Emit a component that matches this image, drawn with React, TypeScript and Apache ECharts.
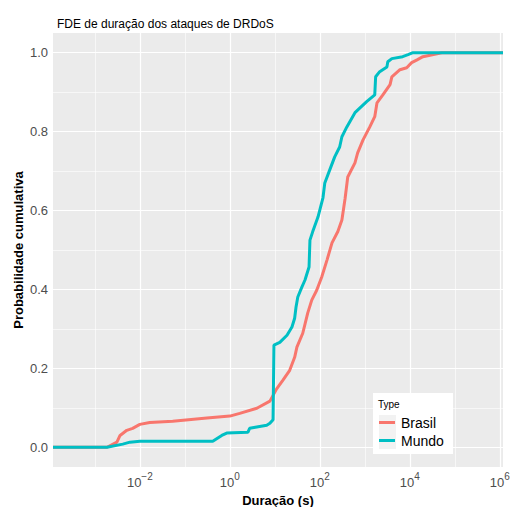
import React, { useEffect, useRef } from "react";
import * as echarts from "echarts";

// x values are log10(duration in seconds); y values are cumulative probability
const brasilLog10 = [-3.93, -2.73, -2.51, -2.44, -2.29, -2.16, -2.0, -1.78, -1.27, -0.51, 0.0, 0.22, 0.6, 0.89, 1.04, 1.18, 1.33, 1.44, 1.49, 1.62, 1.73, 1.82, 1.93, 2.04, 2.16, 2.27, 2.4, 2.49, 2.56, 2.62, 2.78, 2.84, 2.96, 3.11, 3.22, 3.27, 3.4, 3.56, 3.6, 3.78, 3.93, 4.04, 4.16, 4.29, 4.71, 6.07];
const brasilCdf = [0, 0, 0.013, 0.03, 0.043, 0.048, 0.058, 0.063, 0.066, 0.074, 0.079, 0.086, 0.099, 0.117, 0.148, 0.17, 0.195, 0.228, 0.254, 0.289, 0.34, 0.373, 0.398, 0.431, 0.475, 0.518, 0.547, 0.576, 0.63, 0.685, 0.721, 0.746, 0.779, 0.812, 0.838, 0.873, 0.893, 0.919, 0.939, 0.957, 0.962, 0.975, 0.982, 0.99, 1.0, 1.0];

const mundoLog10 = [-3.93, -2.73, -2.38, -2.22, -2.0, -0.38, -0.18, -0.07, 0.4, 0.44, 0.82, 0.89, 0.96, 0.98, 1.11, 1.27, 1.38, 1.44, 1.47, 1.51, 1.6, 1.67, 1.76, 1.78, 1.84, 1.96, 2.07, 2.11, 2.22, 2.33, 2.44, 2.49, 2.6, 2.78, 3.04, 3.22, 3.24, 3.33, 3.49, 3.51, 3.6, 3.84, 3.96, 4.07, 6.07];
const mundoCdf = [0, 0, 0.008, 0.013, 0.015, 0.015, 0.03, 0.036, 0.038, 0.048, 0.056, 0.061, 0.07, 0.259, 0.266, 0.284, 0.305, 0.327, 0.355, 0.381, 0.406, 0.424, 0.457, 0.525, 0.546, 0.584, 0.633, 0.67, 0.703, 0.736, 0.761, 0.787, 0.812, 0.848, 0.876, 0.893, 0.939, 0.952, 0.964, 0.977, 0.985, 0.99, 0.995, 1.0, 1.0];

const seriesNames = ["Brasil", "Mundo"];
const seriesColors = ["#F8766D", "#00BFC4"];

const xMajorExps = [-2, 0, 2, 4, 6];
const xMinorExps = [-3, -1, 1, 3, 5];
const yMajorTicks = [0, 0.2, 0.4, 0.6, 0.8, 1.0];
const yMinorTicks = [0.1, 0.3, 0.5, 0.7, 0.9];

const titleText = "FDE de duração dos ataques de DRDoS";
const xTitle = "Duração (s)";
const yTitle = "Probabilidade cumulativa";
const legendTitle = "Type";

const FONT = "'Liberation Sans', Arial, Helvetica, sans-serif";

export default function App() {
  const ref = useRef<HTMLDivElement>(null);
  useEffect(() => {
    if (!ref.current) return;
    const chart = echarts.init(ref.current, null, { renderer: "svg" });
    const pairs = (xs: number[], ys: number[]) => xs.map((x, i) => [x, ys[i]]);
    const major = { color: "#FFFFFF", width: 1.2, type: "solid" as const };
    const minor = { color: "#FFFFFF", width: 0.6, type: "solid" as const };
    const gridLines = [
      ...xMinorExps.map((v) => ({ xAxis: v, lineStyle: minor })),
      ...yMinorTicks.map((v) => ({ yAxis: v, lineStyle: minor })),
      ...xMajorExps.map((v) => ({ xAxis: v, lineStyle: major })),
      ...yMajorTicks.map((v) => ({ yAxis: v, lineStyle: major })),
    ];
    chart.setOption({
      animation: false,
      textStyle: { fontFamily: FONT },
      title: {
        text: titleText,
        left: 52,
        top: 13,
        textStyle: { fontSize: 12, fontWeight: "normal", color: "#000000", fontFamily: FONT },
      },
      grid: {
        left: 53,
        right: 7,
        top: 33,
        bottom: 40,
        show: true,
        backgroundColor: "#EBEBEB",
        borderWidth: 0,
        containLabel: false,
        outerBoundsMode: "none",
      },
      xAxis: {
        type: "value",
        min: -3.93,
        max: 6.07,
        name: xTitle,
        nameLocation: "middle",
        nameGap: 21,
        nameTextStyle: { fontSize: 13, fontWeight: "bold", color: "#000000", fontFamily: FONT },
        axisLine: { show: false },
        axisTick: { show: true, length: 3, customValues: xMajorExps, lineStyle: { color: "#333333", width: 1 } },
        axisLabel: {
          customValues: xMajorExps,
          margin: 4,
          hideOverlap: false,
          formatter: (v: number) => {
            const e = String(Math.round(v)).replace("-", "\u2212");
            return `{b|10}{s|${e}}`;
          },
          rich: {
            b: { fontSize: 13, color: "#4D4D4D", fontFamily: FONT, verticalAlign: "bottom", lineHeight: 18 },
            s: { fontSize: 10, color: "#4D4D4D", fontFamily: FONT, verticalAlign: "top", lineHeight: 18 },
          },
        },
        splitLine: { show: false },
      },
      yAxis: {
        type: "value",
        min: -0.05,
        max: 1.05,
        name: yTitle,
        nameLocation: "middle",
        nameGap: 28,
        nameMoveOverlap: false,
        nameTextStyle: { fontSize: 13, fontWeight: "bold", color: "#000000", fontFamily: FONT },
        axisLine: { show: false },
        axisTick: { show: true, length: 3, customValues: yMajorTicks, lineStyle: { color: "#333333", width: 1 } },
        axisLabel: {
          customValues: yMajorTicks,
          margin: 5,
          fontSize: 13,
          color: "#4D4D4D",
          fontFamily: FONT,
          formatter: (v: number) => v.toFixed(1),
        },
        splitLine: { show: false },
      },
      legend: {
        orient: "vertical",
        left: 379,
        top: 414,
        z: 20,
        padding: 0,
        itemGap: 1,
        itemWidth: 16,
        itemHeight: 3,
        icon: "rect",
        data: seriesNames,
        textStyle: { fontSize: 14, color: "#000000", fontFamily: FONT, lineHeight: 17, padding: [0, 0, 0, 1] },
      },
      graphic: [
        { type: "rect", z: 10, shape: { x: 373, y: 393, width: 80, height: 61 }, style: { fill: "#FFFFFF" } },
        { type: "text", z: 11, x: 378, y: 399, style: { text: legendTitle, fontSize: 10, fill: "#000000", fontFamily: FONT } },
        { type: "rect", z: 11, shape: { x: 379, y: 415, width: 17, height: 17 }, style: { fill: "#F2F2F2" } },
        { type: "rect", z: 11, shape: { x: 379, y: 432, width: 17, height: 17 }, style: { fill: "#F2F2F2" } },
      ],
      series: [
        {
          type: "line",
          name: "__grid",
          data: [],
          silent: true,
          z: 1,
          markLine: {
            silent: true,
            symbol: "none",
            z: 1,
            label: { show: false },
            emphasis: { disabled: true },
            data: gridLines,
          },
        },
        {
          type: "line",
          name: seriesNames[0],
          data: pairs(brasilLog10, brasilCdf),
          showSymbol: false,
          symbol: "none",
          z: 3,
          color: seriesColors[0],
          lineStyle: { color: seriesColors[0], width: 3 },
        },
        {
          type: "line",
          name: seriesNames[1],
          data: pairs(mundoLog10, mundoCdf),
          showSymbol: false,
          symbol: "none",
          z: 4,
          color: seriesColors[1],
          lineStyle: { color: seriesColors[1], width: 3 },
        },
      ],
    });
    return () => chart.dispose();
  }, []);
  return <div ref={ref} style={{ position: "fixed", left: 0, top: 0, width: 510, height: 507, background: "#FFFFFF" }} />;
}
